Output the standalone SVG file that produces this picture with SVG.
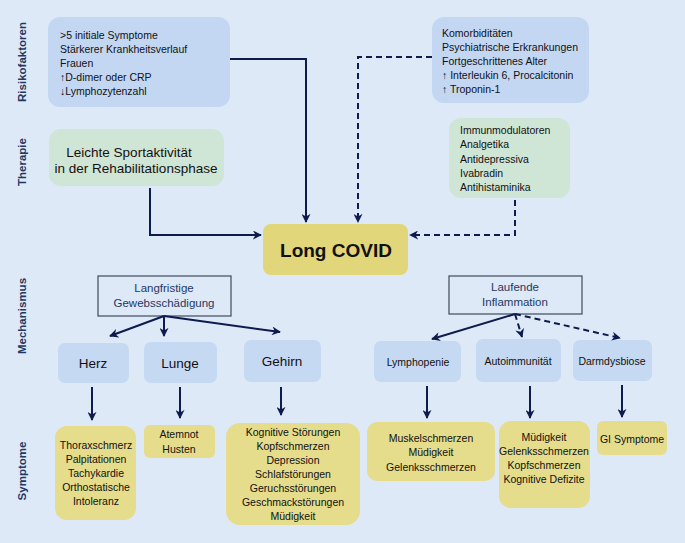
<svg xmlns="http://www.w3.org/2000/svg" width="685" height="543" viewBox="0 0 685 543">
<defs>
<style>
.bg{fill:#dde9f7}
.blue{fill:#c3d7f3}
.mech{fill:#c6d9f3}
.green{fill:#cfe5d6}
.yellow{fill:#e5dc8c}
.main{fill:#e1d67a}
.frame{fill:#dde9f7;stroke:#404a5a;stroke-width:1.2}
text{font-family:"Liberation Sans","Noto Sans",Arial,sans-serif;fill:#111}
.t{font-size:10.5px}
.c{text-anchor:middle}
.head{font-size:11.5px;font-weight:bold;fill:#1f3864;text-anchor:middle}
.mt{font-size:11.5px;fill:#1f3864;text-anchor:middle}
.line{fill:none;stroke:#0e1b4d;stroke-width:2}
.dash{stroke-dasharray:6,4}
</style>
<marker id="ah" viewBox="0 0 10 10" refX="9" refY="5" markerWidth="4.5" markerHeight="4.5" orient="auto" markerUnits="strokeWidth">
<path d="M0,0 L10,5 L0,10 L3,5 z" fill="#0e1b4d"/>
</marker>
</defs>
<rect class="bg" x="0" y="0" width="685" height="543"/>

<g id="headings">
<text class="head" transform="translate(26,62) rotate(-90)">Risikofaktoren</text>
<text class="head" transform="translate(26,162) rotate(-90)">Therapie</text>
<text class="head" transform="translate(26,316) rotate(-90)">Mechanismus</text>
<text class="head" transform="translate(26,471) rotate(-90)">Symptome</text>
</g>

<g id="risk-left">
<rect class="blue" x="48" y="17" width="182" height="90" rx="12"/>
<text class="t" x="60" y="39">&gt;5 initiale Symptome</text>
<text class="t" x="60" y="53">Stärkerer Krankheitsverlauf</text>
<text class="t" x="60" y="67">Frauen</text>
<text class="t" x="60" y="81">↑D-dimer oder CRP</text>
<text class="t" x="60" y="95">↓Lymphozytenzahl</text>
</g>

<g id="risk-right">
<rect class="blue" x="432" y="17" width="157" height="86" rx="12"/>
<text class="t" x="442" y="37">Komorbiditäten</text>
<text class="t" x="442" y="51">Psychiatrische Erkrankungen</text>
<text class="t" x="442" y="65">Fortgeschrittenes Alter</text>
<text class="t" x="442" y="79">↑ Interleukin 6, Procalcitonin</text>
<text class="t" x="442" y="93">↑ Troponin-1</text>
</g>

<g id="therapy-left">
<rect class="green" x="49" y="129" width="175" height="57" rx="12"/>
<text x="129" y="157" class="c" style="font-size:13.5px">Leichte Sportaktivität</text>
<text x="136" y="173" class="c" style="font-size:13.5px">in der Rehabilitationsphase</text>
</g>

<g id="therapy-right">
<rect class="green" x="449" y="118" width="121" height="80" rx="12"/>
<text class="t" x="460" y="134">Immunmodulatoren</text>
<text class="t" x="460" y="148">Analgetika</text>
<text class="t" x="460" y="163">Antidepressiva</text>
<text class="t" x="460" y="177">Ivabradin</text>
<text class="t" x="460" y="191">Antihistaminika</text>
</g>

<g id="long-covid">
<rect class="main" x="263" y="224" width="145" height="51" rx="8"/>
<text x="336" y="257" class="c" style="font-size:19px;font-weight:bold">Long COVID</text>
</g>

<g id="mech-gewebe">
<rect class="frame" x="98" y="276" width="133" height="40"/>
<text class="mt" x="164" y="292">Langfristige</text>
<text class="mt" x="164" y="307">Gewebsschädigung</text>
</g>

<g id="mech-inflammation">
<rect class="frame" x="449" y="276" width="133" height="38"/>
<text class="mt" x="515" y="291">Laufende</text>
<text class="mt" x="515" y="306">Inflammation</text>
</g>

<g id="herz">
<rect class="mech" x="58" y="343" width="71" height="40" rx="7"/>
<text x="93" y="368" class="c" style="font-size:13.5px">Herz</text>
</g>
<g id="lunge">
<rect class="mech" x="144" y="342" width="73" height="41" rx="7"/>
<text x="180" y="368" class="c" style="font-size:13.5px">Lunge</text>
</g>
<g id="gehirn">
<rect class="mech" x="244" y="340" width="77" height="42" rx="7"/>
<text x="282" y="366" class="c" style="font-size:13.5px">Gehirn</text>
</g>
<g id="lymphopenie">
<rect class="mech" x="374" y="341" width="87" height="41" rx="7"/>
<text x="418" y="366" class="c" style="font-size:10.5px">Lymphopenie</text>
</g>
<g id="autoimmunitaet">
<rect class="mech" x="476" y="339" width="85" height="43" rx="7"/>
<text x="518" y="365" class="c" style="font-size:10.5px">Autoimmunität</text>
</g>
<g id="darmdysbiose">
<rect class="mech" x="573" y="340" width="79" height="41" rx="7"/>
<text x="612" y="365" class="c" style="font-size:10.5px">Darmdysbiose</text>
</g>

<g id="sym-herz">
<rect class="yellow" x="55" y="426" width="81" height="94" rx="12"/>
<text class="t c" x="96" y="449">Thoraxschmerz</text>
<text class="t c" x="96" y="463">Palpitationen</text>
<text class="t c" x="96" y="477">Tachykardie</text>
<text class="t c" x="96" y="491">Orthostatische</text>
<text class="t c" x="96" y="505">Intoleranz</text>
</g>
<g id="sym-lunge">
<rect class="yellow" x="144" y="425" width="71" height="33" rx="6"/>
<text class="t c" x="179" y="438">Atemnot</text>
<text class="t c" x="179" y="453">Husten</text>
</g>
<g id="sym-gehirn">
<rect class="yellow" x="226" y="423" width="134" height="102" rx="14"/>
<text class="t c" x="293" y="436">Kognitive Störungen</text>
<text class="t c" x="293" y="450">Kopfschmerzen</text>
<text class="t c" x="293" y="464">Depression</text>
<text class="t c" x="293" y="478">Schlafstörungen</text>
<text class="t c" x="293" y="492">Geruchsstörungen</text>
<text class="t c" x="293" y="506">Geschmackstörungen</text>
<text class="t c" x="293" y="520">Müdigkeit</text>
</g>
<g id="sym-lymphopenie">
<rect class="yellow" x="367" y="422" width="128" height="59" rx="10"/>
<text class="t c" x="431" y="442">Muskelschmerzen</text>
<text class="t c" x="431" y="456">Müdigkeit</text>
<text class="t c" x="431" y="471">Gelenksschmerzen</text>
</g>
<g id="sym-autoimmunitaet">
<rect class="yellow" x="499" y="421" width="91" height="87" rx="12"/>
<text class="t c" x="544" y="441">Müdigkeit</text>
<text class="t c" x="544" y="455">Gelenksschmerzen</text>
<text class="t c" x="544" y="469">Kopfschmerzen</text>
<text class="t c" x="544" y="483">Kognitive Defizite</text>
</g>
<g id="sym-darm">
<rect class="yellow" x="597" y="421" width="70" height="34" rx="6"/>
<text class="t c" x="632" y="443">GI Symptome</text>
</g>

<g id="connectors">
<path class="line" d="M230,59 H306 V222" marker-end="url(#ah)"/>
<path class="line dash" d="M432,57 H358 V222" marker-end="url(#ah)"/>
<path class="line" d="M150,188 V235 H261" marker-end="url(#ah)"/>
<path class="line dash" d="M515,200 V235 H410" marker-end="url(#ah)"/>
<path class="line" d="M164,316 L110,336" marker-end="url(#ah)"/>
<path class="line" d="M164,316 V336" marker-end="url(#ah)"/>
<path class="line" d="M164,316 L280,332" marker-end="url(#ah)"/>
<path class="line" d="M515,314 L432,339" marker-end="url(#ah)"/>
<path class="line dash" d="M515,314 L522,337" marker-end="url(#ah)"/>
<path class="line dash" d="M515,314 L620,338" marker-end="url(#ah)"/>
<path class="line" d="M92,387 V420" marker-end="url(#ah)"/>
<path class="line" d="M180,387 V418" marker-end="url(#ah)"/>
<path class="line" d="M281,387 V415" marker-end="url(#ah)"/>
<path class="line" d="M427,386 V418" marker-end="url(#ah)"/>
<path class="line" d="M530,386 V418" marker-end="url(#ah)"/>
<path class="line" d="M622,385 V417" marker-end="url(#ah)"/>
</g>
</svg>
